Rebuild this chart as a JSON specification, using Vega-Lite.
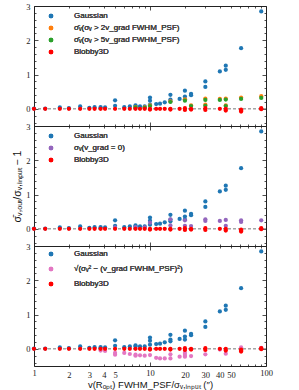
{
  "$schema": "https://vega.github.io/schema/vega-lite/v6.json",
  "padding": {"left": 12, "top": 1, "right": 31, "bottom": 0},
  "background": "white",
  "spacing": 0,
  "bounds": "flush",
  "config": {
    "view": {"stroke": "#222", "strokeWidth": 1},
    "axis": {"domain": false, "grid": false, "tickColor": "#222", "tickWidth": 0.8, "labelFont": "Liberation Serif", "labelFontSize": 8.5, "labelColor": "#222", "titleFont": "Liberation Sans", "titleFontWeight": "normal", "titleColor": "#111"},
    "legend": {"labelFont": "Liberation Sans", "labelFontSize": 8, "labelColor": "#444", "symbolType": "circle", "symbolSize": 20, "symbolStrokeWidth": 0, "padding": 0, "labelOffset": 19, "rowPadding": 4, "labelLimit": 300}
  },
  "datasets": {
    "common": [
      {"s":"Gaussian","x":1,"y":0.01},{"s":"Gaussian","x":1.25,"y":0.01},{"s":"Gaussian","x":1.67,"y":0.04},{"s":"Gaussian","x":2,"y":0.02},{"s":"Gaussian","x":2.5,"y":0.07},{"s":"Gaussian","x":3,"y":0.03},{"s":"Gaussian","x":3.33,"y":0.05},{"s":"Gaussian","x":3.75,"y":0.05},{"s":"Gaussian","x":4.1,"y":0.04},{"s":"Gaussian","x":5,"y":0.25},{"s":"Gaussian","x":5,"y":0.09},{"s":"Gaussian","x":6,"y":0.05},{"s":"Gaussian","x":6.7,"y":0.07},{"s":"Gaussian","x":7.5,"y":0.1},{"s":"Gaussian","x":7.5,"y":0.07},{"s":"Gaussian","x":8.2,"y":0.07},{"s":"Gaussian","x":9,"y":0.07},{"s":"Gaussian","x":10,"y":0.33},{"s":"Gaussian","x":10,"y":0.24},{"s":"Gaussian","x":10,"y":0.12},{"s":"Gaussian","x":11.3,"y":0.14},{"s":"Gaussian","x":12.2,"y":0.15},{"s":"Gaussian","x":13.4,"y":0.19},{"s":"Gaussian","x":15,"y":0.41},{"s":"Gaussian","x":15,"y":0.27},{"s":"Gaussian","x":15,"y":0.22},{"s":"Gaussian","x":18,"y":0.29},{"s":"Gaussian","x":20,"y":0.53},{"s":"Gaussian","x":20,"y":0.36},{"s":"Gaussian","x":20,"y":0.27},{"s":"Gaussian","x":22.6,"y":0.44},{"s":"Gaussian","x":22.6,"y":0.4},{"s":"Gaussian","x":30,"y":0.8},{"s":"Gaussian","x":30,"y":0.64},{"s":"Gaussian","x":40,"y":1.09},{"s":"Gaussian","x":45,"y":1.26},{"s":"Gaussian","x":45,"y":1.14},{"s":"Gaussian","x":61,"y":1.77},{"s":"Gaussian","x":91,"y":2.84},
      {"s":"Blobby3D","x":1,"y":0},{"s":"Blobby3D","x":1.25,"y":0},{"s":"Blobby3D","x":1.67,"y":0},{"s":"Blobby3D","x":2,"y":0},{"s":"Blobby3D","x":2.5,"y":0},{"s":"Blobby3D","x":3,"y":0},{"s":"Blobby3D","x":3.33,"y":0},{"s":"Blobby3D","x":3.75,"y":0},{"s":"Blobby3D","x":4.1,"y":0},{"s":"Blobby3D","x":5,"y":0},{"s":"Blobby3D","x":6,"y":0},{"s":"Blobby3D","x":6.7,"y":0},{"s":"Blobby3D","x":7.5,"y":0},{"s":"Blobby3D","x":8.2,"y":0},{"s":"Blobby3D","x":9,"y":0},{"s":"Blobby3D","x":10,"y":0},{"s":"Blobby3D","x":10,"y":-0.02},{"s":"Blobby3D","x":11.3,"y":0},{"s":"Blobby3D","x":12.2,"y":0},{"s":"Blobby3D","x":13.4,"y":0},{"s":"Blobby3D","x":15,"y":0},{"s":"Blobby3D","x":15,"y":-0.02},{"s":"Blobby3D","x":18,"y":0},{"s":"Blobby3D","x":20,"y":0.02},{"s":"Blobby3D","x":20,"y":-0.03},{"s":"Blobby3D","x":22.6,"y":0},{"s":"Blobby3D","x":22.6,"y":-0.02},{"s":"Blobby3D","x":30,"y":0.02},{"s":"Blobby3D","x":30,"y":-0.03},{"s":"Blobby3D","x":40,"y":0},{"s":"Blobby3D","x":45,"y":0},{"s":"Blobby3D","x":45,"y":-0.05},{"s":"Blobby3D","x":61,"y":-0.02},{"s":"Blobby3D","x":61,"y":-0.05},{"s":"Blobby3D","x":61,"y":-0.08},{"s":"Blobby3D","x":91,"y":0.02},{"s":"Blobby3D","x":91,"y":-0.01}
    ],
    "extra": [
      {"p":1,"s":"o","x":7.5,"y":0.05},{"p":1,"s":"o","x":9,"y":0.04},{"p":1,"s":"o","x":10,"y":0.1},{"p":1,"s":"o","x":15,"y":0.22},{"p":1,"s":"o","x":20,"y":0.28},{"p":1,"s":"o","x":22.6,"y":0.1},{"p":1,"s":"o","x":30,"y":0.3},{"p":1,"s":"o","x":30,"y":0.12},{"p":1,"s":"o","x":40,"y":0.29},{"p":1,"s":"o","x":45,"y":0.3},{"p":1,"s":"o","x":45,"y":0.1},{"p":1,"s":"o","x":61,"y":0.33},{"p":1,"s":"o","x":91,"y":0.37},
      {"p":1,"s":"g","x":7.5,"y":0.04},{"p":1,"s":"g","x":9,"y":0.03},{"p":1,"s":"g","x":10,"y":0.08},{"p":1,"s":"g","x":15,"y":0.2},{"p":1,"s":"g","x":20,"y":0.24},{"p":1,"s":"g","x":22.6,"y":0.08},{"p":1,"s":"g","x":30,"y":0.26},{"p":1,"s":"g","x":30,"y":0.09},{"p":1,"s":"g","x":40,"y":0.26},{"p":1,"s":"g","x":45,"y":0.27},{"p":1,"s":"g","x":45,"y":0.08},{"p":1,"s":"g","x":61,"y":0.29},{"p":1,"s":"g","x":91,"y":0.32},
      {"p":2,"s":"p","x":5,"y":0.04},{"p":2,"s":"p","x":7.5,"y":0.05},{"p":2,"s":"p","x":9,"y":0.04},{"p":2,"s":"p","x":10,"y":0.18},{"p":2,"s":"p","x":15,"y":0.28},{"p":2,"s":"p","x":15,"y":0.1},{"p":2,"s":"p","x":20,"y":0.25},{"p":2,"s":"p","x":20,"y":0.09},{"p":2,"s":"p","x":22.6,"y":0.08},{"p":2,"s":"p","x":30,"y":0.28},{"p":2,"s":"p","x":30,"y":0.23},{"p":2,"s":"p","x":40,"y":0.23},{"p":2,"s":"p","x":45,"y":0.26},{"p":2,"s":"p","x":45,"y":0.09},{"p":2,"s":"p","x":61,"y":0.25},{"p":2,"s":"p","x":61,"y":0.2},{"p":2,"s":"p","x":91,"y":0.25},
      {"p":3,"s":"k","x":3.75,"y":-0.05},{"p":3,"s":"k","x":4.1,"y":-0.06},{"p":3,"s":"k","x":5,"y":-0.12},{"p":3,"s":"k","x":5,"y":-0.17},{"p":3,"s":"k","x":6,"y":-0.12},{"p":3,"s":"k","x":6.7,"y":-0.15},{"p":3,"s":"k","x":7.5,"y":-0.17},{"p":3,"s":"k","x":7.5,"y":-0.2},{"p":3,"s":"k","x":8.2,"y":-0.19},{"p":3,"s":"k","x":9,"y":-0.2},{"p":3,"s":"k","x":10,"y":-0.18},{"p":3,"s":"k","x":11.3,"y":-0.26},{"p":3,"s":"k","x":12.2,"y":-0.28},{"p":3,"s":"k","x":13.4,"y":-0.28},{"p":3,"s":"k","x":15,"y":-0.16},{"p":3,"s":"k","x":15,"y":-0.28},{"p":3,"s":"k","x":18,"y":-0.23},{"p":3,"s":"k","x":20,"y":-0.12},{"p":3,"s":"k","x":20,"y":-0.18},{"p":3,"s":"k","x":20,"y":-0.23},{"p":3,"s":"k","x":22.6,"y":-0.21},{"p":3,"s":"k","x":30,"y":-0.16},{"p":3,"s":"k","x":40,"y":-0.02},{"p":3,"s":"k","x":45,"y":-0.14},{"p":3,"s":"k","x":61,"y":0.04},{"p":3,"s":"k","x":91,"y":0.03}
    ]
  },
  "vconcat": [
    {
      "width": 232, "height": 120,
      "layer": [
        {"data": {"values": [{}]}, "mark": {"type": "rule", "color": "#777", "strokeDash": [3, 2], "strokeWidth": 1}, "encoding": {"y": {"datum": 0, "type": "quantitative", "scale": {"domain": [-0.5, 3], "nice": false, "zero": false}, "axis": null}}},
        {"data": {"name": "common"}, "transform": [{"filter": "datum.s == 'Gaussian'"}], "mark": {"type": "circle", "size": 18, "opacity": 1},
         "encoding": {
           "x": {"field": "x", "type": "quantitative", "scale": {"type": "log", "domain": [1, 100], "nice": false}, "axis": {"orient": "bottom", "values": [1,2,3,4,5,6,7,8,9,10,20,30,40,50,60,70,80,90,100], "labels": false, "title": null, "tickSize": {"condition": {"test": "indexof([1,10,100], datum.value) >= 0", "value": -4}, "value": -2}}},
           "y": {"field": "y", "type": "quantitative", "scale": {"domain": [-0.5, 3], "nice": false, "zero": false}, "axis": {"orient": "left", "values": [-0.4,-0.2,0,0.2,0.4,0.6,0.8,1,1.2,1.4,1.6,1.8,2,2.2,2.4,2.6,2.8,3], "labelExpr": "abs(datum.value - round(datum.value)) < 0.01 ? '' + round(datum.value) : ''", "labelFlush": false, "labelPadding": 8, "title": null, "tickSize": {"condition": {"test": "abs(datum.value - round(datum.value)) < 0.01", "value": -4}, "value": -2}}},
           "color": {"field": "s", "type": "nominal", "scale": {"domain": ["Gaussian", "o", "g", "Blobby3D"], "range": ["#1f77b4", "#ff7f0e", "#2ca02c", "#ff0000"]}, "legend": {"orient": "none", "legendX": 13, "legendY": 6, "title": null, "labelExpr": "datum.label == 'o' ? 'σ̄ᵥ(σᵥ > 2v_grad FWHM_PSF)' : datum.label == 'g' ? 'σ̄ᵥ(σᵥ > 5v_grad FWHM_PSF)' : datum.label"}}
         }},
        {"data": {"name": "extra"}, "transform": [{"filter": "datum.p == 1"}], "mark": {"type": "circle", "size": 18, "opacity": 1},
         "encoding": {
           "x": {"field": "x", "type": "quantitative", "scale": {"type": "log", "domain": [1, 100], "nice": false}, "axis": null},
           "y": {"field": "y", "type": "quantitative", "scale": {"domain": [-0.5, 3], "nice": false, "zero": false}, "axis": null},
           "color": {"field": "s", "type": "nominal", "scale": {"domain": ["Gaussian", "o", "g", "Blobby3D"], "range": ["#1f77b4", "#ff7f0e", "#2ca02c", "#ff0000"]}, "legend": {"orient": "none", "legendX": 13, "legendY": 6, "title": null, "labelExpr": "datum.label == 'o' ? 'σ̄ᵥ(σᵥ > 2v_grad FWHM_PSF)' : datum.label == 'g' ? 'σ̄ᵥ(σᵥ > 5v_grad FWHM_PSF)' : datum.label"}}
         }},
        {"data": {"name": "common"}, "transform": [{"filter": "datum.s == 'Blobby3D'"}], "mark": {"type": "circle", "size": 18, "opacity": 1},
         "encoding": {
           "x": {"field": "x", "type": "quantitative", "scale": {"type": "log", "domain": [1, 100], "nice": false}, "axis": {"orient": "top", "values": [1,2,3,4,5,6,7,8,9,10,20,30,40,50,60,70,80,90,100], "labels": false, "title": null, "tickSize": {"condition": {"test": "indexof([1,10,100], datum.value) >= 0", "value": -4}, "value": -2}}},
           "y": {"field": "y", "type": "quantitative", "scale": {"domain": [-0.5, 3], "nice": false, "zero": false}, "axis": {"orient": "right", "values": [-0.4,-0.2,0,0.2,0.4,0.6,0.8,1,1.2,1.4,1.6,1.8,2,2.2,2.4,2.6,2.8,3], "labels": false, "title": null, "tickSize": {"condition": {"test": "abs(datum.value - round(datum.value)) < 0.01", "value": -4}, "value": -2}}},
           "color": {"field": "s", "type": "nominal", "scale": {"domain": ["Gaussian", "o", "g", "Blobby3D"], "range": ["#1f77b4", "#ff7f0e", "#2ca02c", "#ff0000"]}, "legend": {"orient": "none", "legendX": 13, "legendY": 6, "title": null, "labelExpr": "datum.label == 'o' ? 'σ̄ᵥ(σᵥ > 2v_grad FWHM_PSF)' : datum.label == 'g' ? 'σ̄ᵥ(σᵥ > 5v_grad FWHM_PSF)' : datum.label"}}
         }}
      ],
      "resolve": {"axis": {"x": "independent", "y": "independent"}, "scale": {"color": "independent"}}
    },
    {
      "width": 232, "height": 120,
      "layer": [
        {"data": {"values": [{}]}, "mark": {"type": "rule", "color": "#777", "strokeDash": [3, 2], "strokeWidth": 1}, "encoding": {"y": {"datum": 0, "type": "quantitative", "scale": {"domain": [-0.5, 3], "nice": false, "zero": false}, "axis": null}}},
        {"data": {"name": "common"}, "transform": [{"filter": "datum.s == 'Gaussian'"}], "mark": {"type": "circle", "size": 18, "opacity": 1},
         "encoding": {
           "x": {"field": "x", "type": "quantitative", "scale": {"type": "log", "domain": [1, 100], "nice": false}, "axis": {"orient": "bottom", "values": [1,2,3,4,5,6,7,8,9,10,20,30,40,50,60,70,80,90,100], "labels": false, "title": null, "tickSize": {"condition": {"test": "indexof([1,10,100], datum.value) >= 0", "value": -4}, "value": -2}}},
           "y": {"field": "y", "type": "quantitative", "scale": {"domain": [-0.5, 3], "nice": false, "zero": false}, "axis": {"orient": "left", "values": [-0.4,-0.2,0,0.2,0.4,0.6,0.8,1,1.2,1.4,1.6,1.8,2,2.2,2.4,2.6,2.8,3], "labelExpr": "abs(datum.value - round(datum.value)) < 0.01 ? '' + round(datum.value) : ''", "labelFlush": false, "labelPadding": 8, "title": "σ̄ᵥ,ₒᵤₜ/σᵥ,ᵢₙₚᵤₜ − 1", "titleFontSize": 10.5, "titlePadding": 3, "tickSize": {"condition": {"test": "abs(datum.value - round(datum.value)) < 0.01", "value": -4}, "value": -2}}},
           "color": {"field": "s", "type": "nominal", "scale": {"domain": ["Gaussian", "p", "Blobby3D"], "range": ["#1f77b4", "#9467bd", "#ff0000"]}, "legend": {"orient": "none", "legendX": 13, "legendY": 6, "title": null, "labelExpr": "datum.label == 'p' ? 'σᵥ(v_grad = 0)' : datum.label"}}
         }},
        {"data": {"name": "extra"}, "transform": [{"filter": "datum.p == 2"}], "mark": {"type": "circle", "size": 18, "opacity": 1},
         "encoding": {
           "x": {"field": "x", "type": "quantitative", "scale": {"type": "log", "domain": [1, 100], "nice": false}, "axis": null},
           "y": {"field": "y", "type": "quantitative", "scale": {"domain": [-0.5, 3], "nice": false, "zero": false}, "axis": null},
           "color": {"field": "s", "type": "nominal", "scale": {"domain": ["Gaussian", "p", "Blobby3D"], "range": ["#1f77b4", "#9467bd", "#ff0000"]}, "legend": {"orient": "none", "legendX": 13, "legendY": 6, "title": null, "labelExpr": "datum.label == 'p' ? 'σᵥ(v_grad = 0)' : datum.label"}}
         }},
        {"data": {"name": "common"}, "transform": [{"filter": "datum.s == 'Blobby3D'"}], "mark": {"type": "circle", "size": 18, "opacity": 1},
         "encoding": {
           "x": {"field": "x", "type": "quantitative", "scale": {"type": "log", "domain": [1, 100], "nice": false}, "axis": {"orient": "top", "values": [1,2,3,4,5,6,7,8,9,10,20,30,40,50,60,70,80,90,100], "labels": false, "title": null, "tickSize": {"condition": {"test": "indexof([1,10,100], datum.value) >= 0", "value": -4}, "value": -2}}},
           "y": {"field": "y", "type": "quantitative", "scale": {"domain": [-0.5, 3], "nice": false, "zero": false}, "axis": {"orient": "right", "values": [-0.4,-0.2,0,0.2,0.4,0.6,0.8,1,1.2,1.4,1.6,1.8,2,2.2,2.4,2.6,2.8,3], "labels": false, "title": null, "tickSize": {"condition": {"test": "abs(datum.value - round(datum.value)) < 0.01", "value": -4}, "value": -2}}},
           "color": {"field": "s", "type": "nominal", "scale": {"domain": ["Gaussian", "p", "Blobby3D"], "range": ["#1f77b4", "#9467bd", "#ff0000"]}, "legend": {"orient": "none", "legendX": 13, "legendY": 6, "title": null, "labelExpr": "datum.label == 'p' ? 'σᵥ(v_grad = 0)' : datum.label"}}
         }}
      ],
      "resolve": {"axis": {"x": "independent", "y": "independent"}, "scale": {"color": "independent"}}
    },
    {
      "width": 232, "height": 120,
      "layer": [
        {"data": {"values": [{}]}, "mark": {"type": "rule", "color": "#777", "strokeDash": [3, 2], "strokeWidth": 1}, "encoding": {"y": {"datum": 0, "type": "quantitative", "scale": {"domain": [-0.5, 3], "nice": false, "zero": false}, "axis": null}}},
        {"data": {"name": "common"}, "transform": [{"filter": "datum.s == 'Gaussian'"}], "mark": {"type": "circle", "size": 18, "opacity": 1},
         "encoding": {
           "x": {"field": "x", "type": "quantitative", "scale": {"type": "log", "domain": [1, 100], "nice": false}, "axis": {"orient": "bottom", "values": [1,2,3,4,5,6,7,8,9,10,20,30,40,50,60,70,80,90,100], "labelExpr": "indexof([1,2,3,4,5,10,20,30,40,50,100], datum.value) >= 0 ? '' + datum.value : ''", "labelFlush": false, "labelPadding": 6, "title": "v(Rₒₚₜ) FWHM_PSF/σᵥ,ᵢₙₚᵤₜ (″)", "titleFontSize": 9.5, "titlePadding": 1, "tickSize": {"condition": {"test": "indexof([1,10,100], datum.value) >= 0", "value": -4}, "value": -2}}},
           "y": {"field": "y", "type": "quantitative", "scale": {"domain": [-0.5, 3], "nice": false, "zero": false}, "axis": {"orient": "left", "values": [-0.4,-0.2,0,0.2,0.4,0.6,0.8,1,1.2,1.4,1.6,1.8,2,2.2,2.4,2.6,2.8,3], "labelExpr": "abs(datum.value - round(datum.value)) < 0.01 ? '' + round(datum.value) : ''", "labelFlush": false, "labelPadding": 8, "title": null, "tickSize": {"condition": {"test": "abs(datum.value - round(datum.value)) < 0.01", "value": -4}, "value": -2}}},
           "color": {"field": "s", "type": "nominal", "scale": {"domain": ["Gaussian", "k", "Blobby3D"], "range": ["#1f77b4", "#e377c2", "#ff0000"]}, "legend": {"orient": "none", "legendX": 13, "legendY": 4, "rowPadding": 7, "title": null, "labelExpr": "datum.label == 'k' ? '√(σᵥ² − (v_grad FWHM_PSF)²)' : datum.label"}}
         }},
        {"data": {"name": "extra"}, "transform": [{"filter": "datum.p == 3"}], "mark": {"type": "circle", "size": 18, "opacity": 1},
         "encoding": {
           "x": {"field": "x", "type": "quantitative", "scale": {"type": "log", "domain": [1, 100], "nice": false}, "axis": null},
           "y": {"field": "y", "type": "quantitative", "scale": {"domain": [-0.5, 3], "nice": false, "zero": false}, "axis": null},
           "color": {"field": "s", "type": "nominal", "scale": {"domain": ["Gaussian", "k", "Blobby3D"], "range": ["#1f77b4", "#e377c2", "#ff0000"]}, "legend": {"orient": "none", "legendX": 13, "legendY": 4, "rowPadding": 7, "title": null, "labelExpr": "datum.label == 'k' ? '√(σᵥ² − (v_grad FWHM_PSF)²)' : datum.label"}}
         }},
        {"data": {"name": "common"}, "transform": [{"filter": "datum.s == 'Blobby3D'"}], "mark": {"type": "circle", "size": 18, "opacity": 1},
         "encoding": {
           "x": {"field": "x", "type": "quantitative", "scale": {"type": "log", "domain": [1, 100], "nice": false}, "axis": {"orient": "top", "values": [1,2,3,4,5,6,7,8,9,10,20,30,40,50,60,70,80,90,100], "labels": false, "title": null, "tickSize": {"condition": {"test": "indexof([1,10,100], datum.value) >= 0", "value": -4}, "value": -2}}},
           "y": {"field": "y", "type": "quantitative", "scale": {"domain": [-0.5, 3], "nice": false, "zero": false}, "axis": {"orient": "right", "values": [-0.4,-0.2,0,0.2,0.4,0.6,0.8,1,1.2,1.4,1.6,1.8,2,2.2,2.4,2.6,2.8,3], "labels": false, "title": null, "tickSize": {"condition": {"test": "abs(datum.value - round(datum.value)) < 0.01", "value": -4}, "value": -2}}},
           "color": {"field": "s", "type": "nominal", "scale": {"domain": ["Gaussian", "k", "Blobby3D"], "range": ["#1f77b4", "#e377c2", "#ff0000"]}, "legend": {"orient": "none", "legendX": 13, "legendY": 4, "rowPadding": 7, "title": null, "labelExpr": "datum.label == 'k' ? '√(σᵥ² − (v_grad FWHM_PSF)²)' : datum.label"}}
         }}
      ],
      "resolve": {"axis": {"x": "independent", "y": "independent"}, "scale": {"color": "independent"}}
    }
  ]
}
